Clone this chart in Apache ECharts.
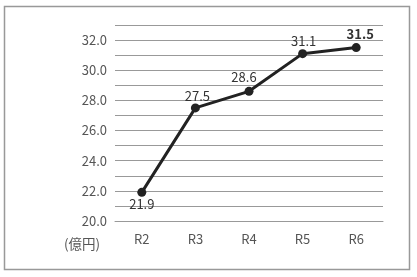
<!DOCTYPE html>
<html><head><meta charset="utf-8">
<script src="https://cdn.jsdelivr.net/npm/echarts@6/dist/echarts.min.js"></script>
<style>html,body{margin:0;padding:0;background:#fff}#c{width:417px;height:277px}</style>
</head><body><div id="c"></div>
<script>
var categories = ['R2','R3','R4','R5','R6'];
var values = [21.9, 27.5, 28.6, 31.1, 31.5];
var yMin = 20, yMax = 33, yStep = 1;
var unitLabel = '(億円)';

var font = '"Noto Sans CJK JP", "Noto Sans", sans-serif';
var labelOffsets = [[0,-2],[2,2],[-5,0],[1,1],[4,0]];
var chart = echarts.init(document.getElementById('c'));
chart.setOption({
  animation: false,
  graphic: [
    {type:'rect', shape:{x:4.5,y:6.5,width:405,height:263}, style:{fill:'none', stroke:'#999', lineWidth:1.5}},
    {type:'text', left:64, top:237, style:{text:unitLabel, fill:'#555', font:'13.5px ' + font}}
  ],
  grid: {left:115, right:34, top:25, bottom:56},
  xAxis: {
    type:'category', data:categories, boundaryGap:true,
    axisLine:{show:true, lineStyle:{color:'#999', width:1}},
    axisTick:{show:false},
    axisLabel:{color:'#555', fontSize:13, fontFamily:font, margin:12}
  },
  yAxis: {
    type:'value', min:yMin, max:yMax, interval:yStep,
    axisLine:{show:false}, axisTick:{show:false},
    splitLine:{lineStyle:{color:'#999', width:1}},
    axisLabel:{color:'#555', fontSize:13, fontFamily:font, margin:8,
      formatter:function(v){ return (Math.round(v) % 2 === 0) ? v.toFixed(1) : ''; }}
  },
  series: [{
    type:'line',
    data: values.map(function(v,i){
      var item = {value:v, label:{offset:labelOffsets[i]}};
      if (i === 0) item.label.position = 'bottom';
      if (i === values.length-1) item.label.fontWeight = 'bold';
      return item;
    }),
    symbol:'circle', symbolSize:9,
    lineStyle:{color:'#222', width:3},
    itemStyle:{color:'#222'},
    label:{show:true, position:'top', color:'#333', fontSize:13, fontFamily:font, distance:3,
      formatter:function(p){ return p.value.toFixed(1); }}
  }]
});
</script></body></html>
